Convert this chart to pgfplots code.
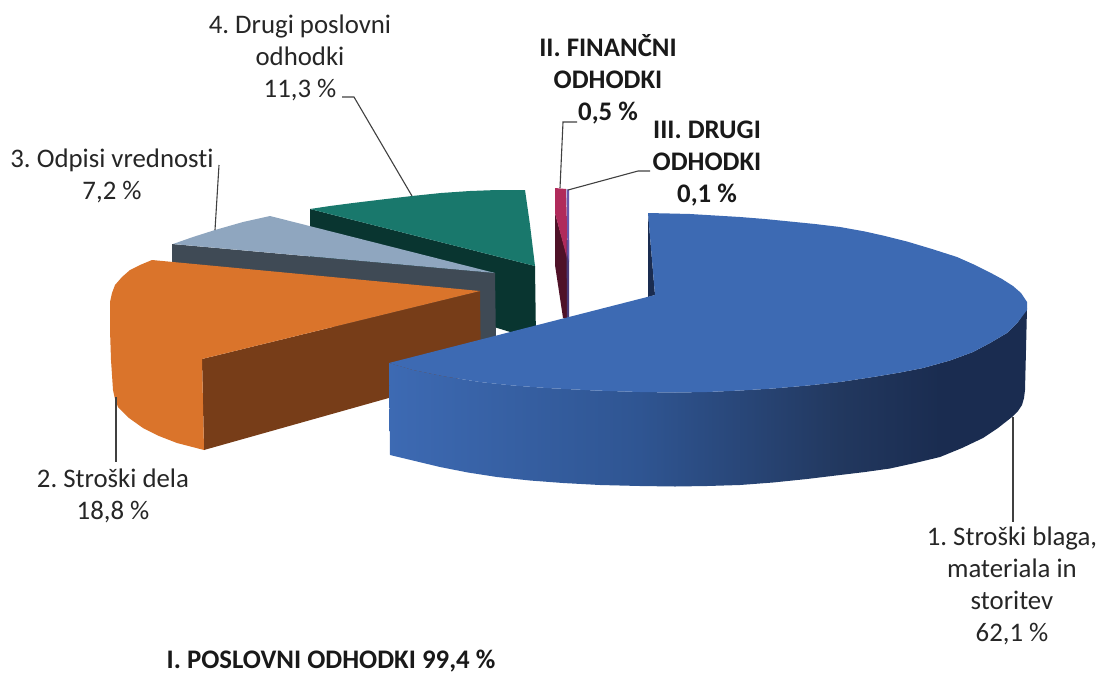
\documentclass[border=0pt]{standalone}
\usepackage{pgfplots}
\pgfplotsset{compat=1.18}
\usepackage{fontspec}
\setmainfont{Carlito}[Ligatures=NoCommon]
\frenchspacing

\definecolor{bluetop}{HTML}{3D6AB3}
\definecolor{bluemid}{HTML}{2F5592}
\definecolor{bluedk}{HTML}{22385F}
\definecolor{bluedkr}{HTML}{1A2C50}
\definecolor{orangetop}{HTML}{DA742B}
\definecolor{orangecut}{HTML}{773D18}
\definecolor{graytop}{HTML}{8FA6BF}
\definecolor{grayside}{HTML}{3F4A55}
\definecolor{tealtop}{HTML}{19786C}
\definecolor{tealside}{HTML}{093530}
\definecolor{magtop}{HTML}{B02B5B}
\definecolor{magside}{HTML}{4F1228}
\definecolor{purptop}{HTML}{6B5AAE}
\definecolor{purpside}{HTML}{4A3B78}
\definecolor{leader}{HTML}{404040}

\pgfdeclarehorizontalshading{bluefront}{100bp}{
  color(0bp)=(bluetop); color(25bp)=(bluetop); color(44.6bp)=(bluemid);
  color(60.3bp)=(bluedk); color(68.2bp)=(bluedkr); color(100bp)=(bluedkr)}

\tikzset{
  lbl/.style={font=\fontsize{26.8}{32}\selectfont, align=center, text=black!85, inner sep=0pt},
  lblb/.style={font=\fontsize{26.8}{32}\selectfont\bfseries, align=center, text=black!90, inner sep=0pt},
  ldr/.style={draw=leader, line width=1.1pt},
}

\begin{document}
\begin{tikzpicture}
\begin{axis}[
  hide axis,
  scale only axis,
  width=1098pt,
  height=673pt,
  xmin=0, xmax=1098,
  ymin=0, ymax=673,
  y dir=reverse,
  clip=false,
  no markers,
  every axis plot/.append style={forget plot},
]

% keeps the page as large as the axis (hide axis drops the box)
\addplot[draw=none] coordinates {(0,0) (1098,673)};

% 4. Drugi poslovni odhodki
\addplot[draw=none, fill=tealside] coordinates {(310,209) (535,266) (536,340) (310,270)};
\addplot[draw=none, fill=tealtop] coordinates {(310,209) (330,206) (353,203) (382,199.5) (412,196) (441,193)
  (470,191) (497,190) (525,190) (530,225) (535,266)};

% 3. Odpisi vrednosti
\addplot[draw=none, fill=grayside] coordinates {(172,244) (495,273) (496,345) (172,310)};
\addplot[draw=none, fill=graytop] coordinates {(173,244) (193,237) (215,230) (243,222) (270,216) (495,273)};

% 2. Stroski dela
\addplot[draw=none, fill=orangecut] coordinates {(202,359) (480,291) (481,372) (204,450)};
\addplot[draw=none, fill=orangetop] coordinates {(152,260) (140,265) (130,270) (122,277) (115,285) (112,293)
  (110,302) (110,330) (111,360) (113,390) (115,399) (118,407) (129,418) (143,428) (159,436) (177,443)
  (204,450) (202,359) (480,291)};

% II. Financni odhodki
\addplot[draw=none, fill=magside] coordinates {(555,213) (555,265) (563,318) (568,318) (568,260)};
\addplot[draw=none, fill=magtop] coordinates {(555,188) (566,189) (568,262) (555,213)};
% III. Drugi odhodki
\addplot[draw=none, fill=purpside] coordinates {(566.5,240) (569,240) (569,318) (567,318)};
\addplot[draw=none, fill=purptop] coordinates {(566.5,189) (569,190) (569,262) (567.5,255)};

% 1. Stroski blaga, materiala in storitev
\addplot[draw=none, fill=bluedkr] coordinates {(648,213) (655,295) (648,297)};
\addplot[draw=none, shading=bluefront, shading angle=0] coordinates {(389,363) (413,370) (445,376.5) (480,382)
  (513,385.5) (547,388) (595,390.5) (640,392) (675,392.5) (707,392) (740,390.5) (773,388.5) (808,385.5)
  (840,382) (873,377) (900,372.5) (923,368) (950,360.5) (973,352) (990,343) (1007,333) (1018,322) (1027,308)
  (1026,350) (1025,390) (1024,398) (1022,405) (1018,411) (1012,417) (998,428) (983,438) (962,448) (940,457)
  (915,463) (890,468.5) (865,472) (840,475) (807,479) (773,482.5) (740,485) (707,486) (675,486.5) (640,486)
  (600,485) (563,483) (530,480.5) (497,477) (468,472.5) (440,467) (415,461) (390,455)};
\addplot[draw=none, fill=bluetop] coordinates {(648,213) (670,213.5) (690,214) (715,215.5) (740,217) (765,219)
  (790,221.5) (815,224) (840,227) (865,231.5) (885,236) (907,241.5) (932,249) (957,257) (975,265) (990,272.5)
  (1002,279) (1013,286) (1021,293) (1027,302) (1027,310) (1018,322) (1007,333) (990,343) (973,352) (950,360.5)
  (923,368) (900,372.5) (873,377) (840,382) (808,385.5) (773,388.5) (740,390.5) (707,392) (675,392.5) (640,392)
  (595,390.5) (547,388) (513,385.5) (480,382) (445,376.5) (413,370) (389,363) (655,295)};

% leader lines
\addplot[ldr] coordinates {(1013,417) (1013,522)};
\addplot[ldr] coordinates {(116,397) (116,462)};
\addplot[ldr] coordinates {(215,230) (219,165)};
\addplot[ldr] coordinates {(412,196) (354,97) (342,97)};
\addplot[ldr] coordinates {(560,188) (563,122) (577,122)};
\addplot[ldr] coordinates {(568,190) (638,171) (650,171)};

\node[lbl] at (axis cs:300,58) {4. Drugi poslovni\\odhodki\\11,3 \%};
\node[lbl] at (axis cs:112,176) {3. Odpisi vrednosti\\7,2 \%};
\node[lblb] at (axis cs:608,79) {II. FINANČNI\\ODHODKI\\0,5 \%};
\node[lblb] at (axis cs:707,164) {III. DRUGI\\ODHODKI\\0,1 \%};
\node[lbl] at (axis cs:113,496) {2. Stroški dela\\18,8 \%};
\node[lbl] at (axis cs:1012,586) {1. Stroški blaga,\\materiala in\\storitev\\62,1 \%};
\node[lblb] at (axis cs:331,661) {I. POSLOVNI ODHODKI 99,4 \%};

\end{axis}
\end{tikzpicture}
\end{document}
